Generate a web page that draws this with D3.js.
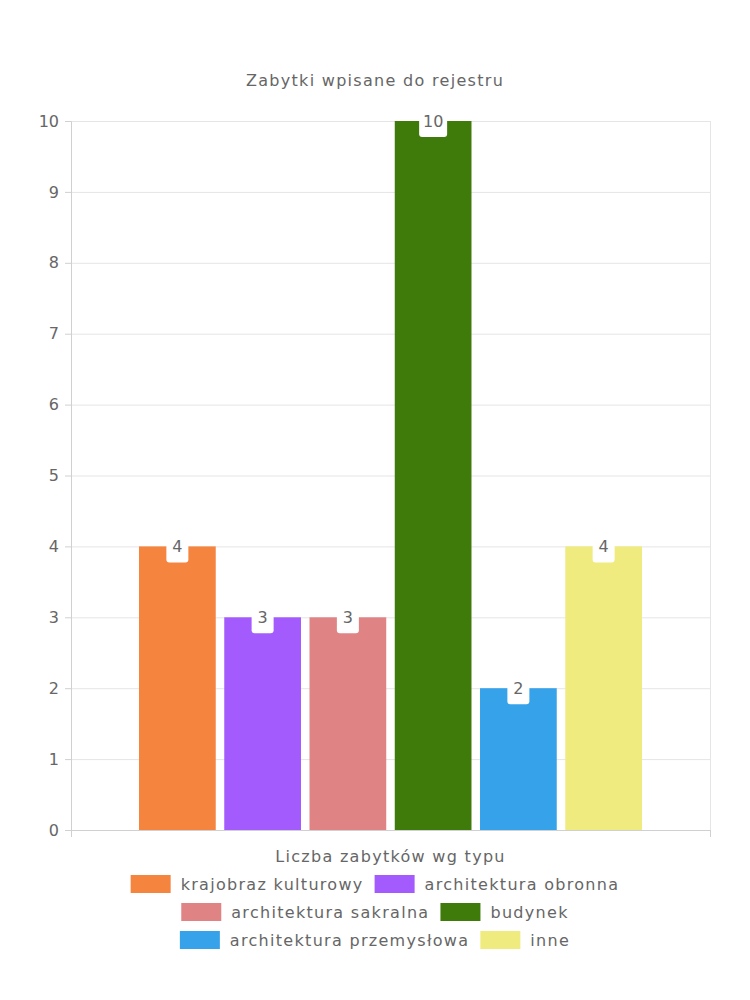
<!DOCTYPE html>
<html><head><meta charset="utf-8">
<script src="https://cdn.jsdelivr.net/npm/d3@7"></script>
<style>body{margin:0;background:#fff}svg{display:block}</style>
</head><body>
<svg id="c" width="750" height="1000"></svg>
<script>
const title = "Zabytki wpisane do rejestru";
const category = "Liczba zabytków wg typu";
const seriesNames = ["krajobraz kulturowy","architektura obronna","architektura sakralna","budynek","architektura przemysłowa","inne"];
const seriesValues = [4,3,3,10,2,4];
const seriesColors = ["#f5843f","#a35bfe","#e08384","#3f7b0b","#36a2ea","#f0eb7f"];
const yTicks = [0,1,2,3,4,5,6,7,8,9,10];

const font = "'DejaVu Sans', sans-serif";
const ls = "1.3px";
const txt = "#666";
const svg = d3.select("#c");
const m = {l:71, r:710, t:121, b:830};

const y = d3.scaleLinear().domain([0,10]).range([m.b, m.t]);
const x0 = d3.scaleBand().domain([category]).range([m.l, m.r]);
const groupW = 503;
const x1 = d3.scaleBand().domain(seriesNames)
  .range([x0(category)+x0.bandwidth()/2-groupW/2, x0(category)+x0.bandwidth()/2+groupW/2])
  .paddingInner(0.1);

// title
svg.append("text").attr("x",375).attr("y",86).attr("text-anchor","middle")
  .attr("font-family",font).attr("font-size",16).attr("letter-spacing",ls).attr("fill",txt).text(title);

// grid
svg.append("g").selectAll("line").data(yTicks).join("line")
  .attr("x1",m.l).attr("x2",m.r).attr("y1",d=>y(d)+0.5).attr("y2",d=>y(d)+0.5)
  .attr("stroke","#e5e5e5");
// right border
svg.append("line").attr("x1",m.r+0.5).attr("x2",m.r+0.5).attr("y1",m.t).attr("y2",m.b).attr("stroke","#e5e5e5");

// y axis
const ya = svg.append("g").attr("transform",`translate(${m.l},0)`)
  .call(d3.axisLeft(y).tickValues(yTicks).tickSize(6).tickPadding(6).tickFormat(d3.format("d")));
ya.select(".domain").attr("stroke","#d0d0d0");
ya.selectAll(".tick line").attr("stroke","#d0d0d0");
ya.selectAll("text").attr("font-family",font).attr("font-size",16).attr("fill",txt);

// x axis
const xa = svg.append("g").attr("transform",`translate(0,${m.b})`)
  .call(d3.axisBottom(x0).tickSize(0).tickPadding(21));
xa.select(".domain").attr("stroke","#d0d0d0");
xa.selectAll("text").attr("font-family",font).attr("font-size",16).attr("letter-spacing",ls).attr("fill",txt);
xa.selectAll(".bt").data([m.l, m.r]).join("line").attr("class","bt")
  .attr("x1",d=>d+0.5).attr("x2",d=>d+0.5).attr("y1",0).attr("y2",7).attr("stroke","#d0d0d0");

// bars
const data = seriesNames.map((n,i)=>({n, v:seriesValues[i], c:seriesColors[i]}));
svg.append("g").selectAll("rect").data(data).join("rect")
  .attr("x",d=>x1(d.n)).attr("width",x1.bandwidth())
  .attr("y",d=>y(d.v)).attr("height",d=>m.b-y(d.v)).attr("fill",d=>d.c);

// labels
const lg = svg.append("g").selectAll("g").data(data).join("g")
  .attr("transform",d=>`translate(${x1(d.n)+x1.bandwidth()/2},${y(d.v)})`);
lg.append("rect").attr("x",d=>-(String(d.v).length>1?14:11)).attr("width",d=>String(d.v).length>1?28:22)
  .attr("y",-14).attr("height",30).attr("rx",3).attr("fill","#fff");
lg.append("text").attr("text-anchor","middle").attr("y",6)
  .attr("font-family",font).attr("font-size",16).attr("fill",txt).text(d=>d.v);

// legend
const leg = svg.append("g");
const items = data.map(d=>{
  const t = leg.append("text").attr("font-family",font).attr("font-size",16)
    .attr("letter-spacing",ls).attr("fill",txt).text(d.n);
  const w = t.node().getComputedTextLength();
  return {d, t, w: 40+10+w};
});
const rows = []; let cur=[], cw=0; const maxW=600;
items.forEach(it=>{
  const add = (cur.length?11:0)+it.w;
  if (cur.length && cw+add>maxW){rows.push({items:cur,w:cw}); cur=[]; cw=0;}
  cw += (cur.length?11:0)+it.w; cur.push(it);
});
if(cur.length) rows.push({items:cur,w:cw});
rows.forEach((r,ri)=>{
  let xx = 375 - r.w/2; const yy = 884 + ri*28;
  r.items.forEach(it=>{
    leg.append("rect").attr("x",xx).attr("y",yy-9).attr("width",40).attr("height",18).attr("fill",it.d.c);
    it.t.attr("x",xx+50).attr("y",yy+6);
    xx += it.w + 11;
  });
});
</script>
</body></html>
